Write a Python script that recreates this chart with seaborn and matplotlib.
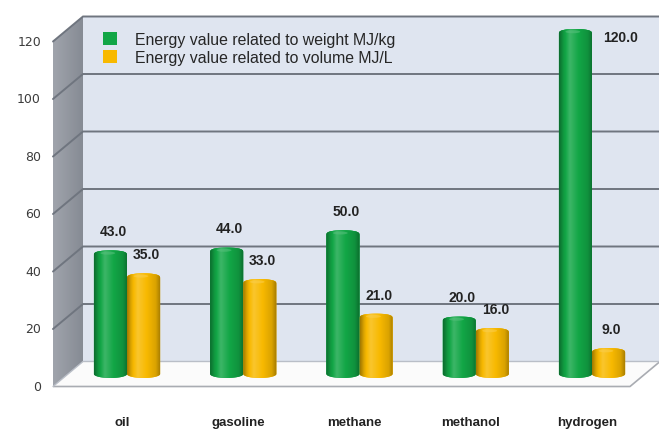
import numpy as np
import pandas as pd
import matplotlib
matplotlib.use("Agg")
import matplotlib.pyplot as plt
import seaborn as sns
from matplotlib.patches import Polygon, Ellipse, Patch
from matplotlib.colors import to_rgb

# ---- data -------------------------------------------------------------
fuels = ["oil", "gasoline", "methane", "methanol", "hydrogen"]
per_weight = [43.0, 44.0, 50.0, 20.0, 120.0]
per_volume = [35.0, 33.0, 21.0, 16.0, 9.0]
series_names = ["Energy value related to weight MJ/kg",
                "Energy value related to volume MJ/L"]
y_ticks = [0, 20, 40, 60, 80, 100, 120]

df = pd.DataFrame({
    "fuel": fuels * 2,
    "value": per_weight + per_volume,
    "series": [series_names[0]] * len(fuels) + [series_names[1]] * len(fuels),
})

# ---- style ------------------------------------------------------------
sns.set_theme(style="white")
plt.rcParams["font.family"] = ["Liberation Sans", "DejaVu Sans"]

GREEN = "#12a646"
YELLOW = "#f8b900"
WALL = "#dfe5f0"
SIDE = "#8f949d"
GRID = "#6f757f"
TEXT = "#222222"

DPI = 100
W, H = 659, 431
# pixel geometry of the mid-depth plane
CAT_PX, VAL_PX = 116.25, 2.875
X0_PX, Y0_PX = 127, 375
DX, DV = 15 / CAT_PX, 12.5 / VAL_PX     # half depth of the 3D box
X_LEFT = (68 - X0_PX) / CAT_PX
X_RIGHT = (645 - X0_PX) / CAT_PX
TOP = 120

fig = plt.figure(figsize=(W / DPI, H / DPI), dpi=DPI)
fig.patch.set_facecolor("white")
ax = fig.add_axes([0, 0, 1, 1])

sns.barplot(data=df, x="fuel", y="value", hue="series",
            palette=[GREEN, YELLOW], width=0.57, saturation=1,
            legend=False, linewidth=0, ax=ax, zorder=2)

ax.set_xlim((0 - X0_PX) / CAT_PX, (W - X0_PX) / CAT_PX)
ax.set_ylim((Y0_PX - H) / VAL_PX, Y0_PX / VAL_PX)
ax.set_autoscale_on(False)
ax.axis("off")


def front(x, v):
    return (x - DX, v - DV)


def back(x, v):
    return (x + DX, v + DV)


# back wall
ax.add_patch(Polygon([back(X_LEFT, 0), back(X_RIGHT, 0),
                      back(X_RIGHT, TOP), back(X_LEFT, TOP)],
                     closed=True, facecolor=WALL, edgecolor="none", zorder=0))

# side wall with a soft horizontal gradient
side_poly = Polygon([front(X_LEFT, 0), back(X_LEFT, 0),
                     back(X_LEFT, TOP), front(X_LEFT, TOP)],
                    closed=True, facecolor=SIDE, edgecolor="none", zorder=0.5)
ax.add_patch(side_poly)
c_light = np.array(to_rgb("#a0a4ac"))
c_dark = np.array(to_rgb("#868b94"))
t = np.linspace(0, 1, 64)[:, None]
side_grad = (c_light * (1 - t) + c_dark * t)[None, :, :]
im = ax.imshow(side_grad, extent=[X_LEFT - DX, X_LEFT + DX, -DV, TOP + DV],
               aspect="auto", zorder=0.55, interpolation="bilinear")
im.set_clip_path(side_poly)

# floor
ax.add_patch(Polygon([front(X_LEFT, 0), front(X_RIGHT, 0),
                      back(X_RIGHT, 0), back(X_LEFT, 0)],
                     closed=True, facecolor="#fbfbfb", edgecolor="none",
                     zorder=0.6))
fx0, fy0 = front(X_LEFT, 0)
fx1, _ = front(X_RIGHT, 0)
bx1, by1 = back(X_RIGHT, 0)
ax.plot([fx0, fx1, bx1], [fy0, fy0, by1], color="#a9acb2", lw=1.2,
        zorder=0.7, solid_capstyle="butt")

# grid lines on the back wall and across the side wall
for v in y_ticks:
    if v == 0:
        col, lw = "#b9bec7", 1.0
    else:
        col, lw = GRID, 1.4
    bxL, byL = back(X_LEFT, v)
    bxR, _ = back(X_RIGHT, v)
    fxL, fyL = front(X_LEFT, v)
    ax.plot([fxL, bxL, bxR], [fyL, byL, byL], color=col, lw=lw,
            zorder=0.8, solid_joinstyle="miter")

# y tick labels along the front edge of the side wall
for v in y_ticks:
    fx, fy = front(X_LEFT, v)
    ax.annotate(f"{v}", xy=(fx, fy), xytext=(-12, 0),
                textcoords="offset pixels", ha="right", va="center",
                fontsize=9, color="#3c3c3c", family="DejaVu Sans")


def shade(color, f):
    c = np.array(to_rgb(color))
    if f >= 0:
        return c + (1 - c) * f
    return c * (1 + f)


# cylinder shading over each bar
stops = [(0.0, -0.35), (0.12, -0.1), (0.32, 0.18), (0.58, 0.0),
         (0.85, -0.12), (1.0, -0.35)]
E_BOT = 4.0 / VAL_PX     # half height of the bottom ellipse
E_TOP = 5.0 / VAL_PX     # height of the rounded top
for container, color in zip(ax.containers, [GREEN, YELLOW]):
    xs = np.linspace(0, 1, 96)
    fs = np.interp(xs, [s[0] for s in stops], [s[1] for s in stops])
    grad = np.array([shade(color, f) for f in fs])[None, :, :]
    for bar in container:
        x0, w, h = bar.get_x(), bar.get_width(), bar.get_height()
        xc = x0 + w / 2
        ang_b = np.linspace(np.pi, 2 * np.pi, 40)
        bottom = [(xc + w / 2 * np.cos(a), E_BOT * np.sin(a)) for a in ang_b]
        # rounded shoulders on top
        ang_t = np.linspace(0, np.pi, 60)
        rx = w / 2
        top = [(xc + rx * np.cos(a),
                h - E_TOP + E_TOP * np.sin(a) ** 0.6) for a in ang_t]
        body = Polygon(bottom + top, closed=True, facecolor=color,
                       edgecolor="none", zorder=2.05)
        ax.add_patch(body)
        bar.set_clip_path(body)
        img = ax.imshow(grad, extent=[x0, x0 + w, -E_BOT, h], aspect="auto",
                        zorder=2.1, interpolation="bilinear")
        img.set_clip_path(body)
        # soft highlight on the top
        ax.add_patch(Ellipse((xc - w * 0.08, h - E_TOP * 0.55), w * 0.45,
                             E_TOP * 0.6, facecolor=shade(color, 0.3),
                             edgecolor="none", alpha=0.55, zorder=2.2))
        # value label
        if h > 110:
            offset = (45, -8)
        else:
            offset = (3, 19)
        ax.annotate(f"{h:.1f}", xy=(xc, h), xytext=offset,
                    textcoords="offset pixels", ha="center", va="center",
                    fontsize=10, fontweight="bold", color=TEXT, zorder=3)

# category labels below the floor
for i, name in enumerate(fuels):
    ax.annotate(name, xy=(i, 0), xytext=(-5, -48), textcoords="offset pixels",
                ha="center", va="center", fontsize=9.5, fontweight="bold",
                color=TEXT)

# legend
handles = [Patch(facecolor=c, edgecolor="none") for c in (GREEN, YELLOW)]
ax.legend(handles, series_names, loc="upper left",
          bbox_to_anchor=(103 / W, 1 - 33 / H), bbox_transform=fig.transFigure,
          frameon=False, fontsize=11.4, handlelength=0.88, handleheight=0.88,
          handletextpad=1.14, labelspacing=0.2, borderpad=0, borderaxespad=0)

fig.savefig("out.png", dpi=DPI)
